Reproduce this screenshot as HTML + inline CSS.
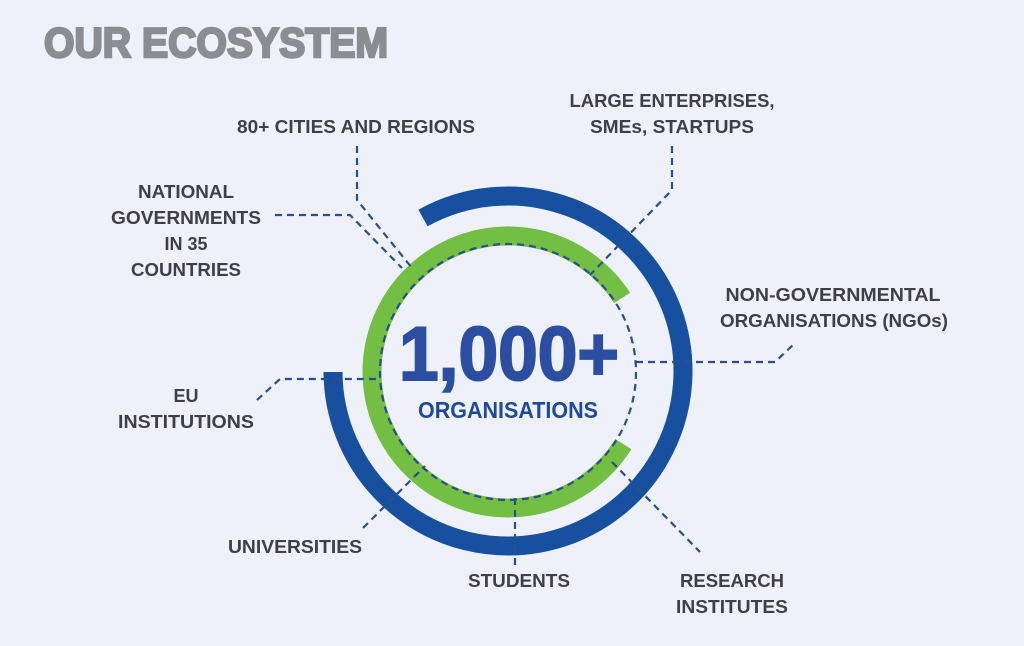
<!DOCTYPE html>
<html><head><meta charset="utf-8"><style>
html,body{margin:0;padding:0;background:#eef1f9;}
svg{display:block;}
.l{font-family:"Liberation Sans",sans-serif;font-weight:bold;font-size:18px;fill:#3d4047;text-anchor:middle;}
.d{fill:none;stroke:#2a4f8f;stroke-width:2.2;stroke-dasharray:7 5;}
</style></head><body>
<svg width="1024" height="646" viewBox="0 0 1024 646">
<rect width="1024" height="646" fill="#eef1f9"/>
<text x="44" y="57" font-family="Liberation Sans" font-weight="bold" font-size="42" fill="#8c8d92" stroke="#8c8d92" stroke-width="2.5" textLength="344" lengthAdjust="spacingAndGlyphs">OUR ECOSYSTEM</text>
<path d="M 623.3 444.1 A 136 136 0 1 1 622.1 297.9" fill="none" stroke="#72bf44" stroke-width="19"/>
<path d="M 423 218 A 175 175 0 1 1 333 372" fill="none" stroke="#1850a0" stroke-width="19"/>
<circle cx="508" cy="372" r="128" class="d"/>
<path class="d" d="M357 146 V200 L412 268"/>
<path class="d" d="M275 215 H350 L402 268"/>
<path class="d" d="M672 146 V190 L590 275"/>
<path class="d" d="M636 362 H775 L794 344"/>
<path class="d" d="M257 400 L280 379 H378"/>
<path class="d" d="M363 528 L425 466"/>
<path class="d" d="M515 498 V566"/>
<path class="d" d="M612 462 L700 552"/>
<text x="509" y="380" text-anchor="middle" font-family="Liberation Sans" font-weight="bold" font-size="76" fill="#2c4ea0" stroke="#2c4ea0" stroke-width="2" textLength="220" lengthAdjust="spacingAndGlyphs">1,000+</text>
<text x="508" y="418" text-anchor="middle" font-family="Liberation Sans" font-weight="bold" font-size="23" fill="#1f4a9a" textLength="180" lengthAdjust="spacingAndGlyphs">ORGANISATIONS</text>
<text class="l" x="356" y="133" textLength="238" lengthAdjust="spacingAndGlyphs">80+ CITIES AND REGIONS</text>
<text class="l" x="672" y="107" textLength="205" lengthAdjust="spacingAndGlyphs">LARGE ENTERPRISES,</text>
<text class="l" x="672" y="133" textLength="164" lengthAdjust="spacingAndGlyphs">SMEs, STARTUPS</text>
<text class="l" x="186" y="198" textLength="96" lengthAdjust="spacingAndGlyphs">NATIONAL</text>
<text class="l" x="186" y="224" textLength="150" lengthAdjust="spacingAndGlyphs">GOVERNMENTS</text>
<text class="l" x="186" y="250">IN 35</text>
<text class="l" x="186" y="276" textLength="110" lengthAdjust="spacingAndGlyphs">COUNTRIES</text>
<text class="l" x="833" y="301" textLength="215" lengthAdjust="spacingAndGlyphs">NON-GOVERNMENTAL</text>
<text class="l" x="834" y="327" textLength="228" lengthAdjust="spacingAndGlyphs">ORGANISATIONS (NGOs)</text>
<text class="l" x="186" y="402">EU</text>
<text class="l" x="186" y="428" textLength="136" lengthAdjust="spacingAndGlyphs">INSTITUTIONS</text>
<text class="l" x="295" y="553" textLength="134" lengthAdjust="spacingAndGlyphs">UNIVERSITIES</text>
<text class="l" x="519" y="587" textLength="102" lengthAdjust="spacingAndGlyphs">STUDENTS</text>
<text class="l" x="732" y="587" textLength="104" lengthAdjust="spacingAndGlyphs">RESEARCH</text>
<text class="l" x="732" y="613" textLength="112" lengthAdjust="spacingAndGlyphs">INSTITUTES</text>
</svg>
</body></html>
